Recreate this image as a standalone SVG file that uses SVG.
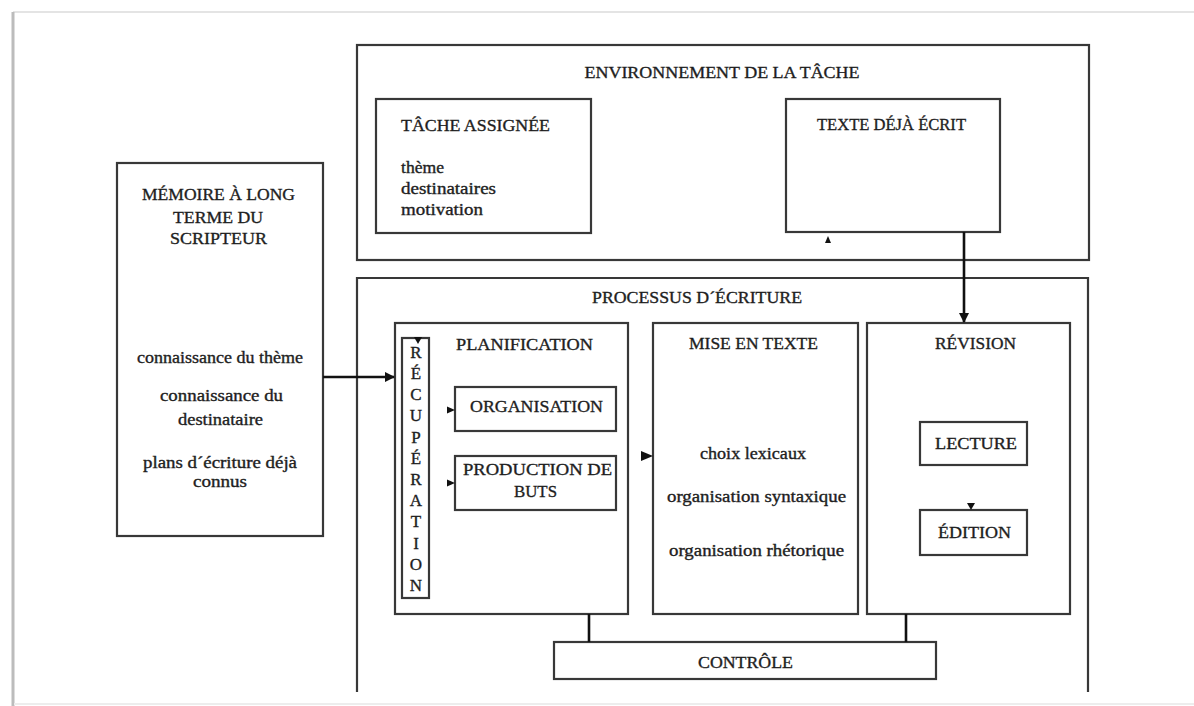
<svg xmlns="http://www.w3.org/2000/svg" width="1194" height="706" viewBox="0 0 1194 706">
<defs>
<style>
.box{fill:#fff;stroke:#383838;stroke-width:2.2}
.t{font-family:"Liberation Serif","Times New Roman",serif;font-size:17px;fill:#1e1e1e;stroke:#1e1e1e;stroke-width:0.35;text-anchor:middle}
.s{font-size:16px}
.l{text-anchor:start}
.c{stroke:#111;stroke-width:2.6;fill:none}
.h{fill:#111}
</style>
<marker id="ah" viewBox="0 0 10 10" refX="9" refY="5" markerWidth="4" markerHeight="4" orient="auto" markerUnits="strokeWidth">
<path d="M0,0 L10,5 L0,10 Z" fill="#111"/>
</marker>
</defs>
<rect width="1194" height="706" fill="#fff"/>
<g id="frame">
<line x1="13" y1="12" x2="1194" y2="12" stroke="#e4e4e4" stroke-width="2"/>
<line x1="13" y1="12" x2="13" y2="706" stroke="#bcbcbc" stroke-width="3"/>
<line x1="14" y1="704" x2="1194" y2="704" stroke="#ededed" stroke-width="2"/>
</g>
<g id="environnement">
<rect class="box" x="357" y="45" width="732" height="215"/>
<text class="t" x="722" y="78" textLength="275" lengthAdjust="spacingAndGlyphs">ENVIRONNEMENT DE LA TÂCHE</text>
</g>
<g id="tache-assignee">
<rect class="box" x="376" y="99" width="215" height="134"/>
<text class="t l" x="401" y="131" textLength="149" lengthAdjust="spacingAndGlyphs">TÂCHE ASSIGNÉE</text>
<text class="t s l" x="401" y="173" textLength="43" lengthAdjust="spacingAndGlyphs">thème</text>
<text class="t s l" x="401" y="194" textLength="95" lengthAdjust="spacingAndGlyphs">destinataires</text>
<text class="t s l" x="401" y="215" textLength="82" lengthAdjust="spacingAndGlyphs">motivation</text>
</g>
<g id="texte-deja-ecrit">
<rect class="box" x="786" y="99" width="214" height="133"/>
<text class="t" x="891.5" y="130" textLength="149" lengthAdjust="spacingAndGlyphs">TEXTE DÉJÀ ÉCRIT</text>
</g>
<g id="memoire">
<rect class="box" x="117" y="163" width="206" height="373"/>
<text class="t" x="218.5" y="200" textLength="153" lengthAdjust="spacingAndGlyphs">MÉMOIRE À LONG</text>
<text class="t" x="218" y="223" textLength="90" lengthAdjust="spacingAndGlyphs">TERME DU</text>
<text class="t" x="218.5" y="244" textLength="97" lengthAdjust="spacingAndGlyphs">SCRIPTEUR</text>
<text class="t s" x="220" y="363" textLength="166" lengthAdjust="spacingAndGlyphs">connaissance du thème</text>
<text class="t s" x="221.5" y="401" textLength="123" lengthAdjust="spacingAndGlyphs">connaissance du</text>
<text class="t s" x="220.5" y="425" textLength="85" lengthAdjust="spacingAndGlyphs">destinataire</text>
<text class="t s" x="220" y="468" textLength="154" lengthAdjust="spacingAndGlyphs">plans d´écriture déjà</text>
<text class="t s" x="220" y="487" textLength="54" lengthAdjust="spacingAndGlyphs">connus</text>
</g>
<g id="processus">
<path class="box" fill="none" d="M357,692 V278 H1088 V692"/>
<text class="t" x="697" y="303" textLength="210" lengthAdjust="spacingAndGlyphs">PROCESSUS D´ÉCRITURE</text>
</g>
<g id="planification">
<rect class="box" x="395" y="323" width="233" height="291"/>
<text class="t" x="524.5" y="350" textLength="137" lengthAdjust="spacingAndGlyphs">PLANIFICATION</text>
</g>
<g id="recuperation">
<rect class="box" x="402" y="338" width="27" height="260"/>
<text class="t" x="416" y="358">R</text>
<text class="t" x="416" y="379">É</text>
<text class="t" x="416" y="400">C</text>
<text class="t" x="416" y="421">U</text>
<text class="t" x="416" y="443">P</text>
<text class="t" x="416" y="464">É</text>
<text class="t" x="416" y="485">R</text>
<text class="t" x="416" y="506">A</text>
<text class="t" x="416" y="527">T</text>
<text class="t" x="416" y="549">I</text>
<text class="t" x="416" y="570">O</text>
<text class="t" x="416" y="591">N</text>
</g>
<g id="organisation">
<rect class="box" x="455" y="387" width="161" height="44"/>
<text class="t" x="536.5" y="412" textLength="133" lengthAdjust="spacingAndGlyphs">ORGANISATION</text>
</g>
<g id="production-de-buts">
<rect class="box" x="455" y="456" width="161" height="54"/>
<text class="t" x="537.5" y="475" textLength="149" lengthAdjust="spacingAndGlyphs">PRODUCTION DE</text>
<text class="t" x="535.5" y="497" textLength="43" lengthAdjust="spacingAndGlyphs">BUTS</text>
</g>
<g id="mise-en-texte">
<rect class="box" x="653" y="323" width="205" height="291"/>
<text class="t" x="753.5" y="349" textLength="129" lengthAdjust="spacingAndGlyphs">MISE EN TEXTE</text>
<text class="t s" x="753" y="459" textLength="106" lengthAdjust="spacingAndGlyphs">choix lexicaux</text>
<text class="t s" x="756.5" y="502" textLength="179" lengthAdjust="spacingAndGlyphs">organisation syntaxique</text>
<text class="t s" x="756.5" y="556" textLength="175" lengthAdjust="spacingAndGlyphs">organisation rhétorique</text>
</g>
<g id="revision">
<rect class="box" x="867" y="323" width="203" height="291"/>
<text class="t" x="975.5" y="349" textLength="81" lengthAdjust="spacingAndGlyphs">RÉVISION</text>
</g>
<g id="lecture">
<rect class="box" x="920" y="422" width="107" height="43"/>
<text class="t" x="976" y="449" textLength="82" lengthAdjust="spacingAndGlyphs">LECTURE</text>
</g>
<g id="edition">
<rect class="box" x="920" y="510" width="107" height="45"/>
<text class="t" x="974.5" y="538" textLength="73" lengthAdjust="spacingAndGlyphs">ÉDITION</text>
</g>
<g id="controle">
<rect class="box" x="554" y="642" width="382" height="37"/>
<text class="t" x="745.5" y="668" textLength="95" lengthAdjust="spacingAndGlyphs">CONTRÔLE</text>
</g>
<g id="connectors">
<line class="c" x1="323" y1="377" x2="394" y2="377" marker-end="url(#ah)"/>
<line class="c" x1="964" y1="232" x2="964" y2="322" marker-end="url(#ah)"/>
<line class="c" x1="589" y1="614" x2="589" y2="642"/>
<line class="c" x1="906" y1="614" x2="906" y2="642"/>
<path class="h" d="M825,243 L831,243 L828,236 Z"/>
<path class="h" d="M414,337 L422,337 L418,344 Z"/>
<path class="h" d="M447,406.5 L455,410 L447,413.5 Z"/>
<path class="h" d="M447,479.5 L455,483 L447,486.5 Z"/>
<path class="h" d="M641,451 L653,456 L641,461 Z"/>
<path class="h" d="M967,503 L975,503 L971,510 Z"/>
</g>
</svg>
